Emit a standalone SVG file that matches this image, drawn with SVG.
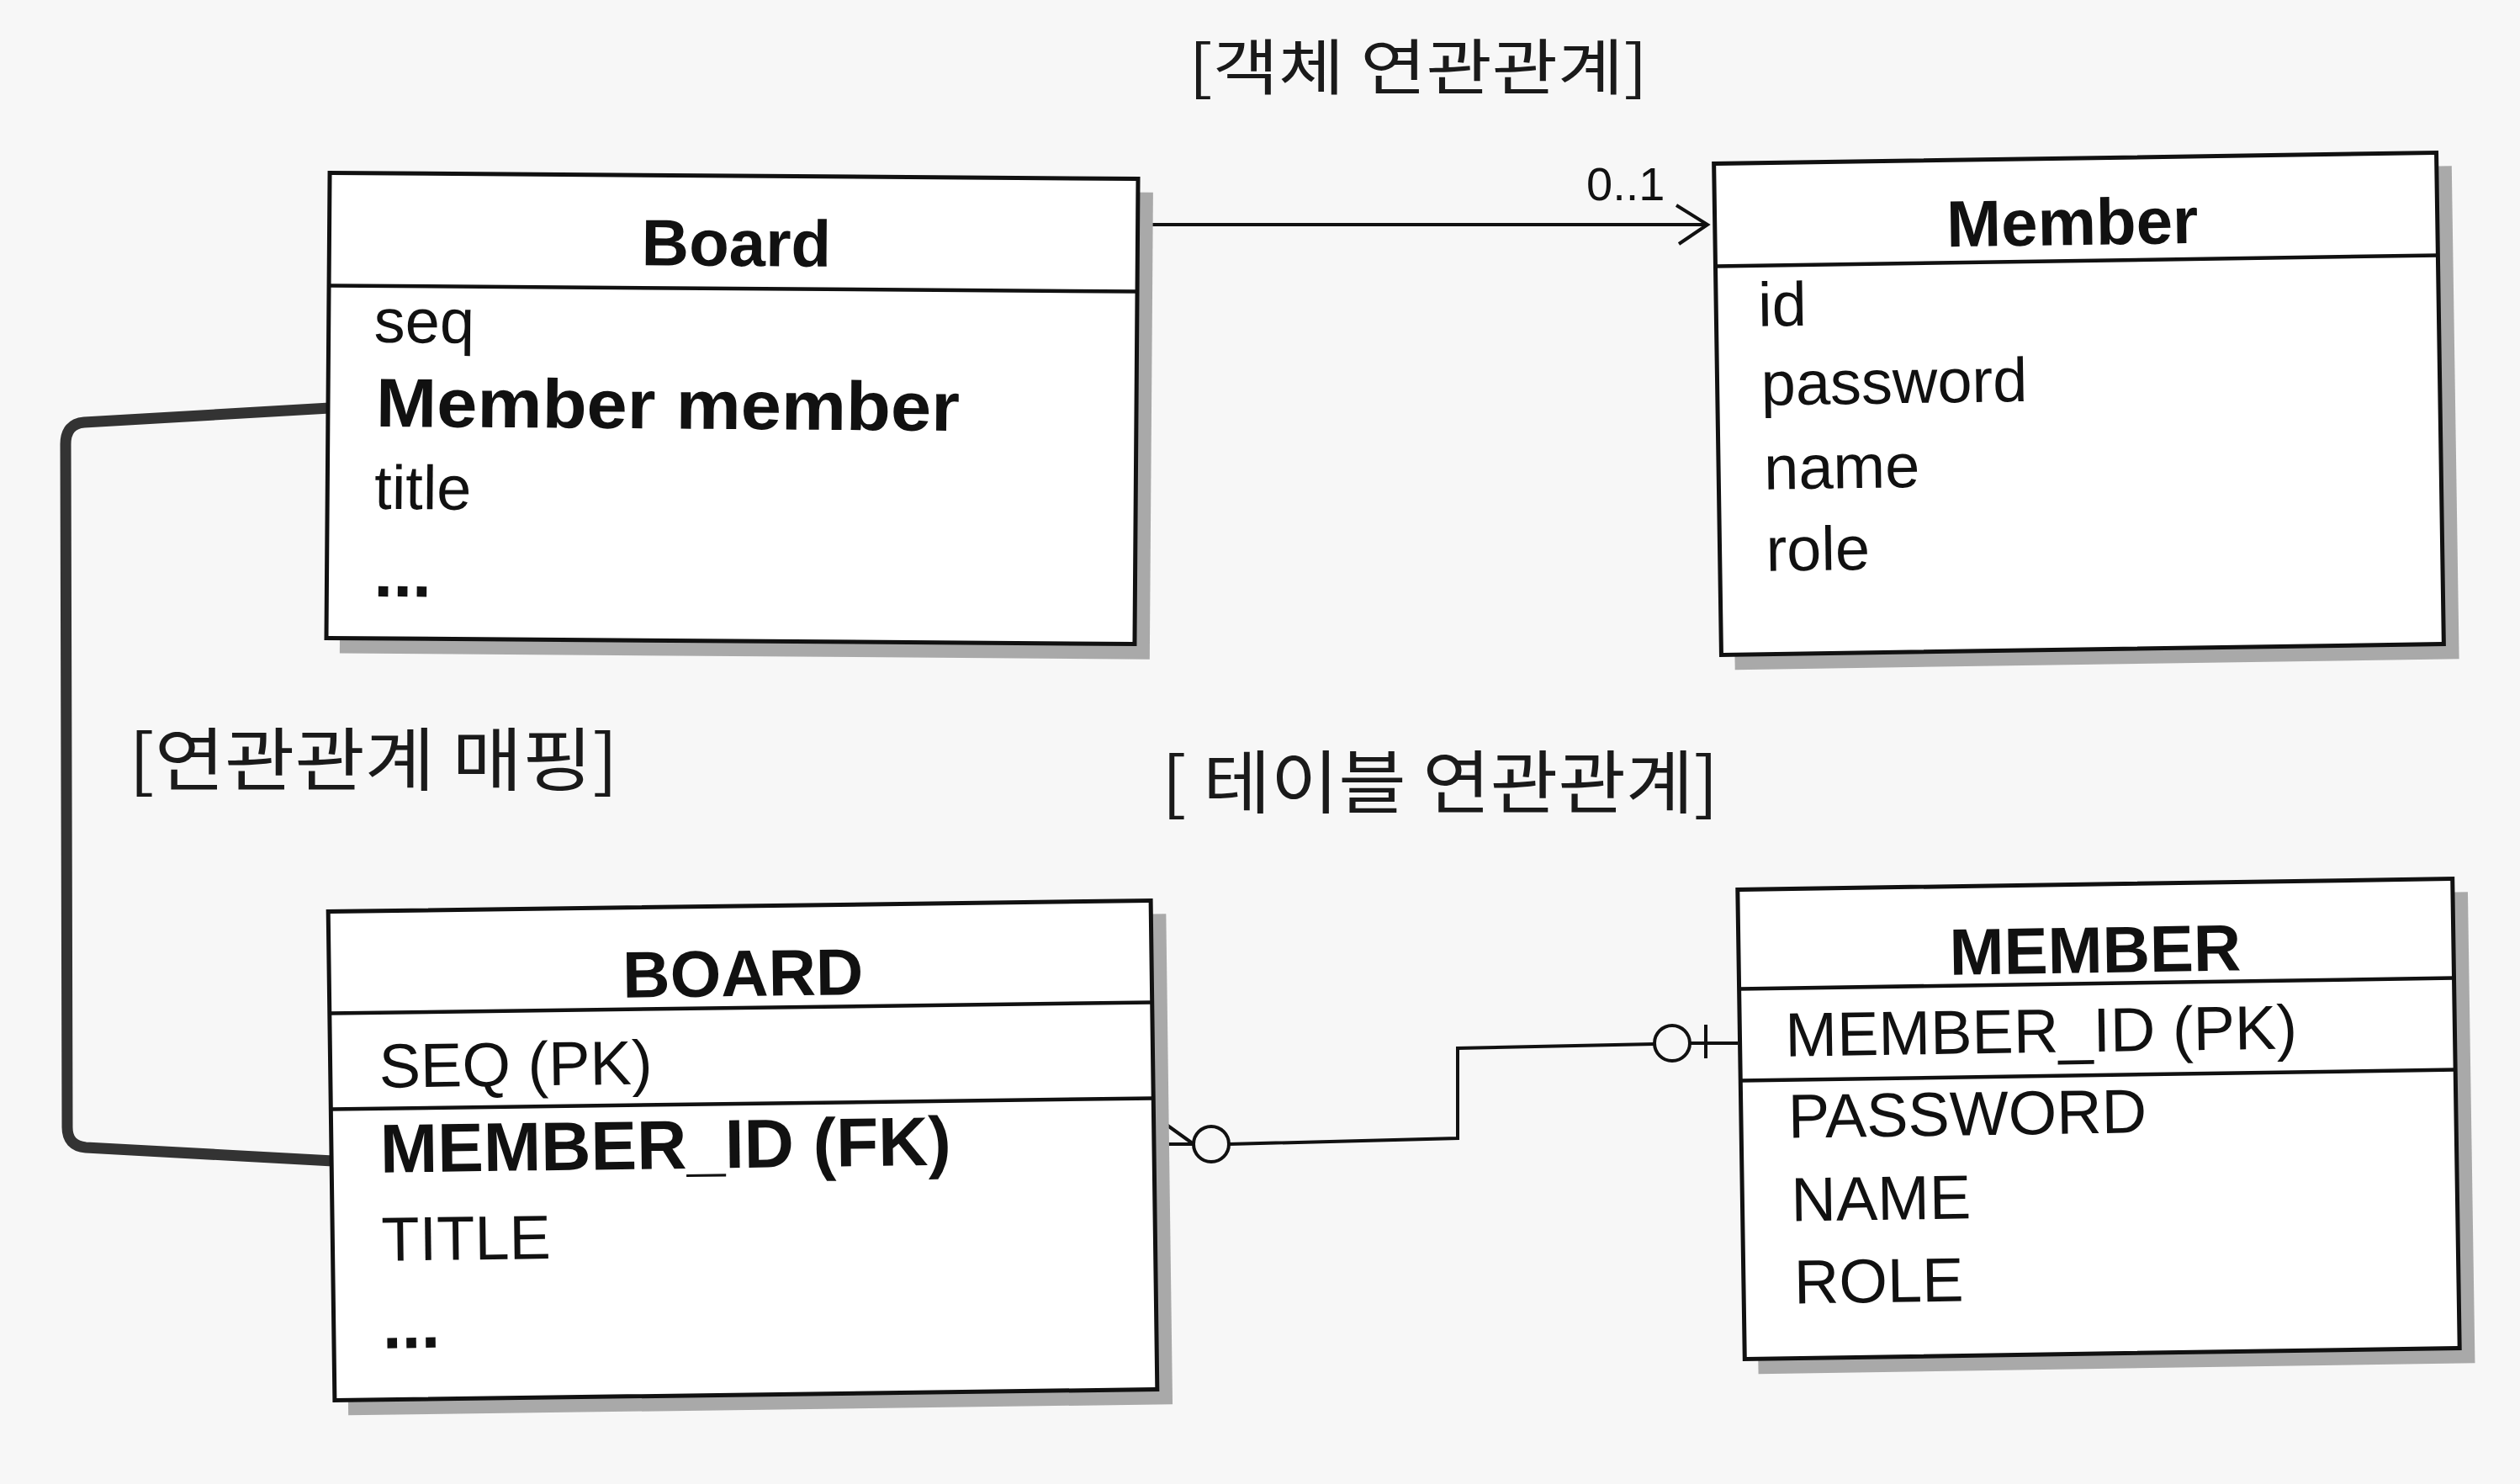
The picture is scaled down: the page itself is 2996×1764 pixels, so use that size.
<svg xmlns="http://www.w3.org/2000/svg" width="2996" height="1764" viewBox="0 0 2996 1764">
  <defs>
    <style>
      .box { fill: #ffffff; stroke: #111111; stroke-width: 5; }
      .shadow { fill: #a9a9a9; stroke: none; }
      .sep { stroke: #111111; stroke-width: 4.5; fill: none; }
      .title { font-family: "Liberation Sans", Arial, sans-serif; font-weight: 700; font-size: 78px; fill: #111111; text-anchor: middle; }
      .attr { font-family: "Liberation Sans", Arial, sans-serif; font-weight: 400; font-size: 74px; fill: #111111; }
      .attrb { font-family: "Liberation Sans", Arial, sans-serif; font-weight: 700; font-size: 82px; fill: #111111; }
      .label { font-family: "Noto Sans CJK KR", "Noto Sans", sans-serif; font-weight: 400; fill: #1a1a1a; }
      .mult { font-family: "Liberation Sans", Arial, sans-serif; font-size: 56px; fill: #111111; }
      .conn { stroke: #111111; stroke-width: 4; fill: none; }
      .map { stroke: #333333; stroke-width: 13; fill: none; stroke-linejoin: round; }
    </style>
    <marker id="openArrow" markerUnits="userSpaceOnUse" markerWidth="50" markerHeight="60" refX="40" refY="25" orient="auto">
      <path d="M3,2 L40,25 L6,48" fill="none" stroke="#111111" stroke-width="4"/>
    </marker>
  </defs>

  <rect x="0" y="0" width="2996" height="1764" fill="#f7f7f7"/>

  <g id="label-object">
    <text class="label" x="1413" y="106" font-size="72" textLength="546" lengthAdjust="spacingAndGlyphs">[객체 연관관계]</text>
  </g>
  <g id="label-mapping">
    <text class="label" x="153" y="933" font-size="82" textLength="582" lengthAdjust="spacingAndGlyphs">[연관관계 매핑]</text>
  </g>
  <g id="label-table">
    <text class="label" x="1381" y="960" font-size="82" textLength="662" lengthAdjust="spacingAndGlyphs">[ 테이블 연관관계]</text>
  </g>

  <g id="connectors">
    <path class="map" d="M392,485 L100,502 Q78,504 78,528 L80,1340 Q80,1362 102,1364 L396,1380"/>
    <line class="conn" x1="1356" y1="267" x2="2030" y2="267" marker-end="url(#openArrow)"/>
    <text class="mult" x="1886" y="238">0..1</text>
    <path class="conn" d="M1373,1327 L1419,1360 M1373,1360 L1419,1360"/>
    <circle class="conn" cx="1440" cy="1360" r="21"/>
    <path class="conn" d="M1461,1360 L1733,1353 L1733,1246 L1967,1241"/>
    <circle class="conn" cx="1988" cy="1240" r="21"/>
    <path class="conn" d="M2009,1240 L2066,1240 M2028,1218 L2028,1258"/>
  </g>

  <g id="node-board" transform="rotate(0.42 871 486)">
    <rect class="shadow" x="406" y="225" width="963" height="555"/>
    <rect class="box" x="390" y="209" width="961" height="553"/>
    <line class="sep" x1="390" y1="343" x2="1351" y2="343"/>
    <text class="title" x="874" y="316">Board</text>
    <text class="attr" x="444" y="410">seq</text>
    <text class="attrb" x="447" y="510" textLength="694" lengthAdjust="spacingAndGlyphs">Member member</text>
    <text class="attr" x="446" y="608">title</text>
    <text class="attrb" x="446" y="712">...</text>
  </g>

  <g id="node-member" transform="rotate(-0.865 2472 480)">
    <rect class="shadow" x="2058" y="204" width="861" height="586"/>
    <rect class="box" x="2042" y="188" width="859" height="584"/>
    <line class="sep" x1="2042" y1="310" x2="2901" y2="310"/>
    <text class="title" x="2467" y="291">Member</text>
    <text class="attr" x="2092" y="382">id</text>
    <text class="attr" x="2094" y="476" font-size="76">password</text>
    <text class="attr" x="2096" y="576" font-size="76">name</text>
    <text class="attr" x="2097" y="673" font-size="76">role</text>
  </g>

  <g id="node-board-table" transform="rotate(-0.76 883 1367)">
    <rect class="shadow" x="410" y="1093" width="980" height="583"/>
    <rect class="box" x="394" y="1077" width="978" height="581"/>
    <line class="sep" x1="394" y1="1198" x2="1372" y2="1198"/>
    <line class="sep" x1="394" y1="1312" x2="1372" y2="1312"/>
    <text class="title" x="886" y="1184">BOARD</text>
    <text class="attr" x="452" y="1287">SEQ (PK)</text>
    <text class="attrb" x="452" y="1388">MEMBER_ID (FK)</text>
    <text class="attr" x="452" y="1493">TITLE</text>
    <text class="attrb" x="452" y="1597">...</text>
  </g>

  <g id="node-member-table" transform="rotate(-0.87 2495 1330)">
    <rect class="shadow" x="2086" y="1067" width="852" height="560"/>
    <rect class="box" x="2070" y="1051" width="850" height="558"/>
    <line class="sep" x1="2070" y1="1169" x2="2920" y2="1169"/>
    <line class="sep" x1="2070" y1="1278" x2="2920" y2="1278"/>
    <text class="title" x="2494" y="1156">MEMBER</text>
    <text class="attr" x="2124" y="1250" font-size="72">MEMBER_ID (PK)</text>
    <text class="attr" x="2126" y="1347" font-size="72">PASSWORD</text>
    <text class="attr" x="2128" y="1446">NAME</text>
    <text class="attr" x="2130" y="1544">ROLE</text>
  </g>
</svg>
